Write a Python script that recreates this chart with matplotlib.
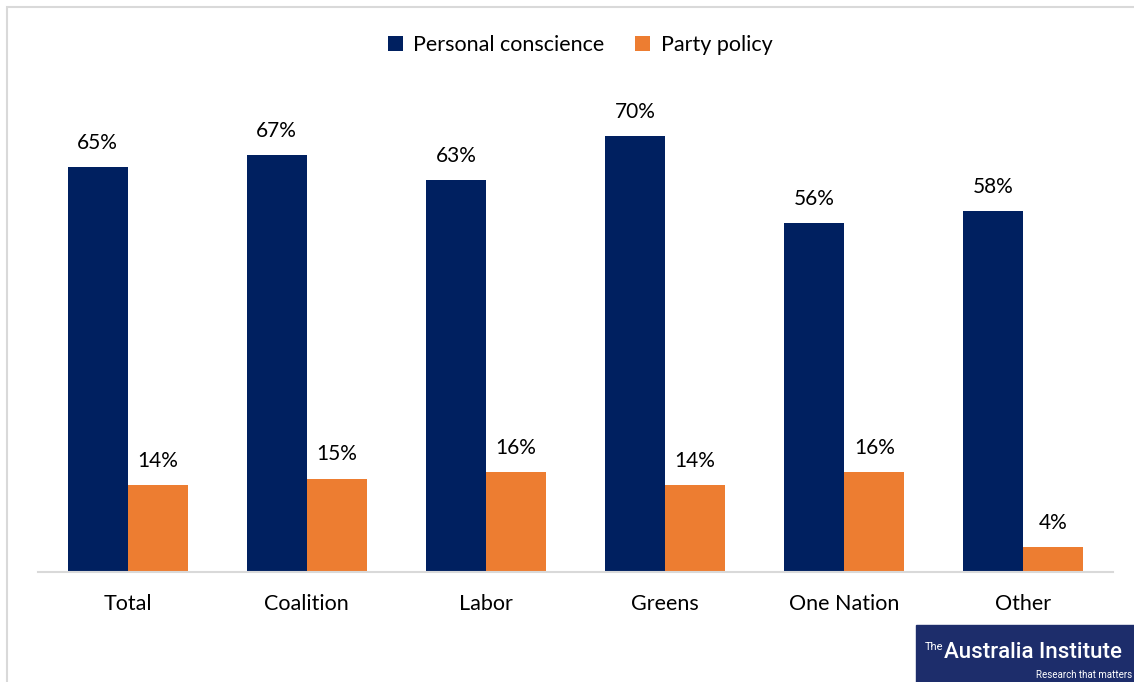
import matplotlib.pyplot as plt
import numpy as np
from matplotlib.patches import Rectangle

groups = ["Total", "Coalition", "Labor", "Greens", "One Nation", "Other"]
conscience = [65, 67, 63, 70, 56, 58]
party = [14, 15, 16, 14, 16, 4]

plt.rcParams['font.family'] = ['Lato', 'DejaVu Sans']

fig = plt.figure(figsize=(11.34, 6.82), dpi=100)
ax = fig.add_axes([38 / 1134, 110 / 682, 1075 / 1134, 498 / 682])

x = np.arange(len(groups))
w = 0.335
b1 = ax.bar(x - w / 2, conscience, w, color='#002060', label='Personal conscience')
b2 = ax.bar(x + w / 2, party, w, color='#ED7D31', label='Party policy')

for bars, vals in ((b1, conscience), (b2, party)):
    for r, v in zip(bars, vals):
        ax.text(r.get_x() + r.get_width() / 2, v + 2.3, f"{v}%",
                ha='center', va='bottom', fontsize=15)

ax.set_xlim(-0.5, 5.5)
ax.set_ylim(0, 80)
ax.set_xticks(x)
ax.set_xticklabels(groups, fontsize=15.5)
ax.tick_params(axis='x', length=0, pad=16)
ax.set_yticks([])
for s in ('top', 'right', 'left'):
    ax.spines[s].set_visible(False)
ax.spines['bottom'].set_color('#d9d9d9')
ax.spines['bottom'].set_linewidth(1.5)

fig.legend(loc='center', bbox_to_anchor=(580 / 1134, 1 - 45 / 682), ncol=2,
           frameon=False, fontsize=15.5, handlelength=0.7, handleheight=0.7,
           columnspacing=1.4, handletextpad=0.5)

# outer frame
fig.patches.append(Rectangle((7 / 1134, -0.1), 1.2, 1 - 7 / 682 + 0.1,
                             transform=fig.transFigure, fill=False,
                             edgecolor='#d9d9d9', linewidth=1.5))

# logo block
fig.patches.append(Rectangle((916 / 1134, 0), 218 / 1134, 57 / 682,
                             transform=fig.transFigure, color='#1d2d6b', zorder=5))
fig.text(925 / 1134, 1 - 647 / 682, "The", color='white', fontsize=8,
         family=['Roboto'], va='center', zorder=6)
fig.text(944 / 1134, 1 - 653 / 682, "Australia Institute", color='white',
         fontsize=16, family=['Roboto'], weight='medium',
         va='center', zorder=6)
fig.text(1132 / 1134, 1 - 675 / 682, "Research that matters", color='white',
         fontsize=7, family=['Roboto'], ha='right', va='center', zorder=6)

fig.savefig('out.png', dpi=100)
